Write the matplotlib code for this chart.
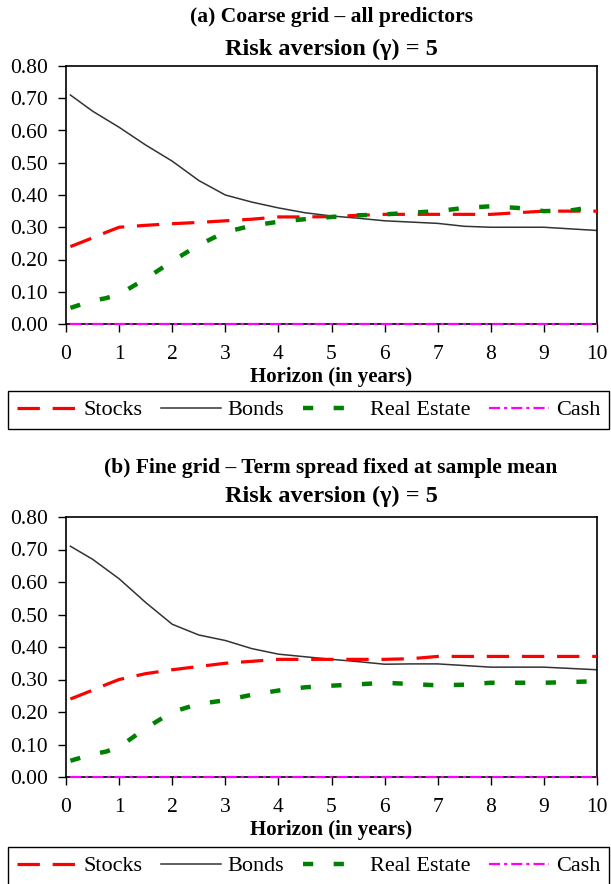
import numpy as np
import matplotlib
matplotlib.use("Agg")
import matplotlib.pyplot as plt

plt.rcParams['font.family'] = ['Liberation Serif', 'DejaVu Serif']

# --- data ---
horizon = [1/12, 0.5, 0.75, 1, 1.5, 2, 2.5, 3, 3.5, 4, 4.5, 5, 5.5, 6, 6.5, 7, 7.5, 8, 8.5, 9, 9.5, 10]

# (a) coarse grid - all predictors
stocks_a = [0.24, 0.267, 0.284, 0.30, 0.306, 0.311, 0.315, 0.32, 0.325, 0.332, 0.332, 0.333, 0.337, 0.34,
            0.34, 0.34, 0.34, 0.34, 0.345, 0.35, 0.35, 0.35]
bonds_a = [0.71, 0.66, 0.635, 0.61, 0.555, 0.505, 0.445, 0.40, 0.378, 0.36, 0.345, 0.335, 0.328, 0.32,
           0.316, 0.312, 0.303, 0.30, 0.30, 0.30, 0.295, 0.29]
realestate_a = [0.05, 0.072, 0.08, 0.092, 0.14, 0.195, 0.245, 0.285, 0.305, 0.317, 0.325, 0.332, 0.337, 0.34,
                0.345, 0.35, 0.36, 0.365, 0.36, 0.35, 0.352, 0.365]
cash_a = [0.0] * len(horizon)

# (b) fine grid - term spread fixed at sample mean
stocks_b = [0.24, 0.267, 0.284, 0.30, 0.318, 0.33, 0.34, 0.35, 0.356, 0.362, 0.362, 0.362, 0.362, 0.362,
            0.364, 0.371, 0.371, 0.371, 0.371, 0.371, 0.371, 0.371]
bonds_b = [0.71, 0.67, 0.64, 0.61, 0.537, 0.47, 0.437, 0.42, 0.395, 0.378, 0.37, 0.362, 0.355, 0.347,
           0.348, 0.348, 0.343, 0.338, 0.338, 0.338, 0.334, 0.33]
realestate_b = [0.05, 0.07, 0.078, 0.092, 0.15, 0.20, 0.225, 0.236, 0.253, 0.266, 0.276, 0.281, 0.285, 0.29,
                0.286, 0.282, 0.284, 0.29, 0.29, 0.29, 0.292, 0.295]
cash_b = [0.0] * len(horizon)

panels = [
    ("(a) Coarse grid \u2013 all predictors", stocks_a, bonds_a, realestate_a, cash_a),
    ("(b) Fine grid \u2013 Term spread fixed at sample mean", stocks_b, bonds_b, realestate_b, cash_b),
]
subtitle = "Risk aversion (\u03b3) = 5"

# layout in pixels (figure is 611 x 884)
W, H = 611, 884
ax_rows = [(66, 324), (517, 777)]        # top, bottom of each axes
title_y = [(17, 49), (468, 496)]
legend_top = [391, 847]

fig = plt.figure(figsize=(W / 100, H / 100), dpi=100)

for i, (title, stocks, bonds, re_, cash) in enumerate(panels):
    top, bot = ax_rows[i]
    ax = fig.add_axes([66 / W, 1 - bot / H, (597 - 66) / W, (bot - top) / H])

    l1, = ax.plot(horizon, stocks, color='#ff0000', lw=2.3, dashes=(7.0, 4.0), label='Stocks', zorder=3)
    l2, = ax.plot(horizon, bonds, color='#333333', lw=1.1, label='Bonds', zorder=2)
    l3, = ax.plot(horizon, re_, color='#008000', lw=3.2, dashes=(2.3, 4.6), label='Real Estate', zorder=4)
    l4, = ax.plot(horizon, cash, color='#ff00ff', lw=1.6, dashes=(5.0, 1.8, 1.4, 1.8), label='Cash',
                  zorder=5, clip_on=False)

    ax.set_xlim(0, 10)
    ax.set_ylim(0, 0.8)
    ax.set_xticks(range(0, 11))
    ax.set_yticks(np.arange(0, 0.81, 0.1))
    ax.set_yticklabels([f"{v:.2f}" for v in np.arange(0, 0.81, 0.1)])
    ax.tick_params(axis='both', direction='out', length=6, width=1.0, labelsize=15.5)
    ax.tick_params(axis='x', pad=9)
    ax.tick_params(axis='y', pad=7)
    for s in ax.spines.values():
        s.set_linewidth(1.2)
        s.set_color('black')
    ax.set_xlabel("Horizon (in years)", fontsize=15, fontweight='bold', labelpad=2)

    fig.text(331 / W, 1 - title_y[i][0] / H, title, ha='center', va='center',
             fontsize=15.5, fontweight='bold')
    fig.text(331 / W, 1 - title_y[i][1] / H, subtitle, ha='center', va='center',
             fontsize=17.5, fontweight='bold')

    lt = legend_top[i]
    leg = fig.legend(handles=[l1, l2, l3, l4], loc='upper center',
                     bbox_to_anchor=(308.5 / W, 1 - lt / H), ncol=4, fontsize=16,
                     frameon=True, fancybox=False, edgecolor='black', framealpha=1,
                     handlelength=2.7, handletextpad=0.3, columnspacing=0.85,
                     borderpad=0.4, borderaxespad=0)
    leg.get_frame().set_linewidth(1.0)

fig.savefig("out.png", dpi=100)
